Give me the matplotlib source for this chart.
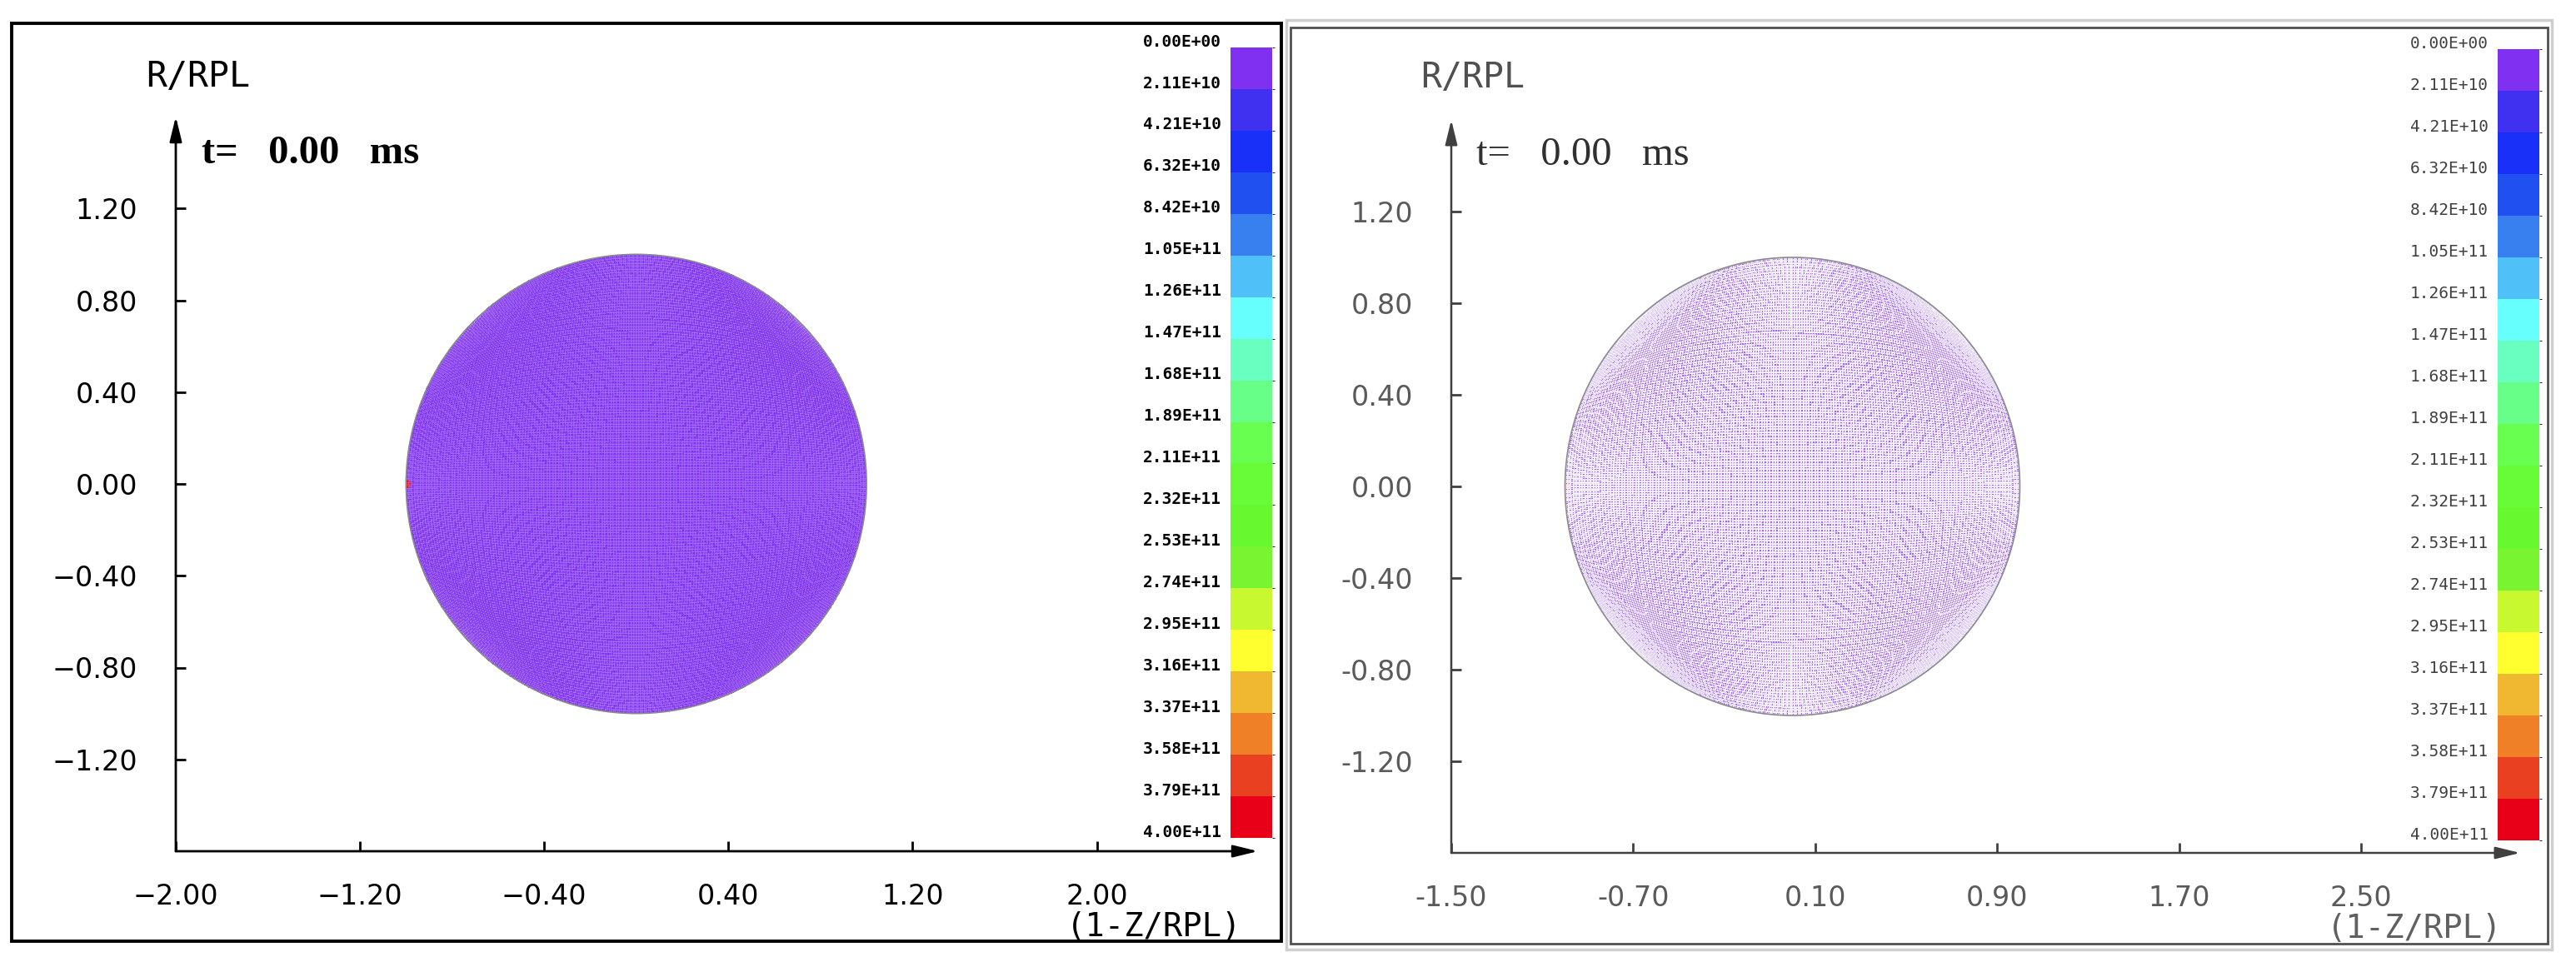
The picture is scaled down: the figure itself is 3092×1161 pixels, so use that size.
import numpy as np
import matplotlib.pyplot as plt
from matplotlib.colors import ListedColormap, BoundaryNorm
from matplotlib.patches import Rectangle
from matplotlib.cm import ScalarMappable

# colour scale levels (same in both pictures)
levels = [0.0, 2.11e10, 4.21e10, 6.32e10, 8.42e10, 1.05e11, 1.26e11, 1.47e11,
          1.68e11, 1.89e11, 2.11e11, 2.32e11, 2.53e11, 2.74e11, 2.95e11,
          3.16e11, 3.37e11, 3.58e11, 3.79e11, 4.00e11]
level_colors = ['#8030f0', '#4030f0', '#1830f8', '#2050f0', '#3880f0', '#50c0f8',
                '#68ffff', '#68ffc0', '#68ff88', '#68ff50', '#68fc38', '#68f830',
                '#78f530', '#c8f830', '#ffff30', '#f0b830', '#f08028', '#e84020',
                '#e80018']

time_ms = 0.00
field_value = 0.0          # plate is at rest at t=0
hot_spot_xy = (-1.0, 0.0)  # single red cell on the left rim
hot_spot_value = 4.00e11

yticks = [1.20, 0.80, 0.40, 0.00, -0.40, -0.80, -1.20]
left_xticks = [-2.00, -1.20, -0.40, 0.40, 1.20, 2.00]
right_xticks = [-1.50, -0.70, 0.10, 0.90, 1.70, 2.50]

W, H = 3092, 1161


def fx(px):
    return px / W


def fy(py):
    return 1 - py / H


# O-grid mesh of the unit disc
n = 160
s = np.linspace(-1, 1, n + 1)
U, V = np.meshgrid(s, s)
X = U * np.sqrt(1 - V ** 2 / 2)
Y = V * np.sqrt(1 - U ** 2 / 2)
C = np.full((n, n), field_value)
xc = 0.25 * (X[:-1, :-1] + X[1:, :-1] + X[:-1, 1:] + X[1:, 1:])
yc = 0.25 * (Y[:-1, :-1] + Y[1:, :-1] + Y[:-1, 1:] + Y[1:, 1:])
C[np.hypot(xc - hot_spot_xy[0], yc - hot_spot_xy[1]) < 0.02] = hot_spot_value
rim_x = np.concatenate([X[0, :], X[:, -1], X[-1, ::-1], X[::-1, 0]])
rim_y = np.concatenate([Y[0, :], Y[:, -1], Y[-1, ::-1], Y[::-1, 0]])

cmap = ListedColormap(level_colors)
cmap.set_over(level_colors[-1])
norm = BoundaryNorm(levels, len(level_colors))

fig = plt.figure(figsize=(W / 100, H / 100), dpi=100)

# panel frames
fig.add_artist(Rectangle((fx(14), fy(1130)), fx(1538) - fx(14), fy(28) - fy(1130),
                         transform=fig.transFigure, fill=False, ec='black', lw=2.8))
fig.add_artist(Rectangle((fx(1544), fy(1140)), fx(3063) - fx(1544), fy(24) - fy(1140),
                         transform=fig.transFigure, fill=False, ec='#cfcfcf', lw=2.5))
fig.add_artist(Rectangle((fx(1549), fy(1133)), fx(3058) - fx(1549), fy(33) - fy(1133),
                         transform=fig.transFigure, fill=False, ec='#505050', lw=2.0))


def draw_panel(rect, xlim, xticks, minus, left):
    ax = fig.add_axes(rect)
    ax.set_xlim(*xlim)
    ax.set_ylim(-1.6, 1.6)
    for sp in ax.spines.values():
        sp.set_visible(False)
    line_col = 'black' if left else '#404040'
    text_col = 'black' if left else '#5a5a5a'

    if left:
        ax.pcolormesh(X, Y, C, cmap=cmap, norm=norm, edgecolors=(0.85, 0.8, 1, 0.16),
                      linewidth=0.18)
    else:
        ax.pcolormesh(X, Y, C, cmap=cmap, norm=norm, edgecolors=(1, 1, 1, 0.5),
                      linewidth=0.3, alpha=0.72)
    ax.plot(rim_x, rim_y, color='#8a8a8a', lw=1.2)

    arrow = dict(arrowstyle='-|>,head_length=0.9,head_width=0.22', lw=2.0 if left else 1.8,
                 color=line_col, mutation_scale=20, shrinkA=0, shrinkB=0)
    ax.annotate('', xy=(1, 0), xytext=(0, 0), xycoords='axes fraction', arrowprops=arrow)
    ax.annotate('', xy=(0, 1), xytext=(0, 0), xycoords='axes fraction', arrowprops=arrow)

    ax.set_xticks(xticks, labels=[f'{t:.2f}'.replace('-', minus) for t in xticks])
    ax.set_yticks(yticks, labels=[f'{t:.2f}'.replace('-', minus) for t in yticks])
    ax.tick_params(direction='in', length=8.6, width=2.0, color=line_col,
                   labelcolor=text_col, labelsize=24)
    ax.tick_params(axis='x', pad=27)
    ax.tick_params(axis='y', pad=33)
    return ax


axl = draw_panel([fx(211), fy(1022), 1299 / W, 882 / H], (-2.0, 2.7), left_xticks,
                 '\u2212', True)
axr = draw_panel([fx(1742), fy(1024), 1283 / W, 880 / H], (-1.5, 3.2), right_xticks,
                 '-', False)

# panel texts
t_label = f't=   {time_ms:.2f}   ms'
fig.text(fx(238), fy(92), 'R/RPL', family='DejaVu Sans Mono', fontsize=30,
         ha='center', va='center', color='black')
fig.text(fx(242), fy(184), t_label, family='Liberation Serif', fontsize=35,
         fontweight='bold', ha='left', va='center', color='black')
fig.text(fx(1490), fy(1113), '(1-Z/RPL)', family='DejaVu Sans Mono', fontsize=28,
         ha='right', va='center', color='black')

fig.text(fx(1768), fy(93), 'R/RPL', family='DejaVu Sans Mono', fontsize=30,
         ha='center', va='center', color='#505050')
fig.text(fx(1772), fy(186), t_label, family='Liberation Serif', fontsize=35,
         ha='left', va='center', color='#303030')
fig.text(fx(3003), fy(1115), '(1-Z/RPL)', family='DejaVu Sans Mono', fontsize=28,
         ha='right', va='center', color='#606060')


def draw_scale(rect, bold, col):
    cax = fig.add_axes(rect)
    cb = fig.colorbar(ScalarMappable(norm=norm, cmap=cmap), cax=cax,
                      boundaries=levels, spacing='uniform')
    cb.outline.set_visible(False)
    cax.invert_yaxis()
    cax.set_yticks([])
    cax.tick_params(length=0)
    for lev in levels:
        cax.annotate(f'{lev:.2E}', xy=(0, lev), xycoords=('axes fraction', 'data'),
                     xytext=(-8, 5), textcoords='offset points', ha='right',
                     va='center', family='DejaVu Sans Mono', fontsize=14,
                     fontweight='bold' if bold else 'normal', color=col,
                     annotation_clip=False)


draw_scale([fx(1477), fy(1006), 50 / W, 949 / H], True, 'black')
draw_scale([fx(2998), fy(1009), 50 / W, 950 / H], False, '#404040')

fig.savefig('out.png', dpi=100)
